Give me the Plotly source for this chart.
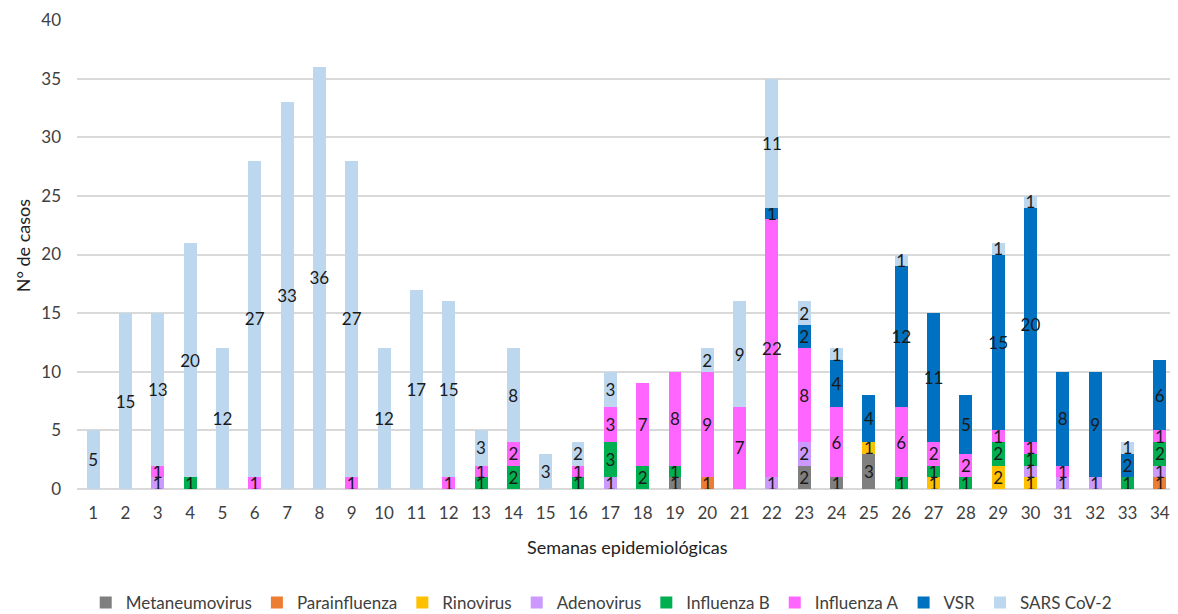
import plotly.graph_objects as go

weeks = [str(i) for i in range(1, 35)]

metaneumovirus = [0,0,0,0,0,0,0,0,0,0,0,0,0,0,0,0,0,0,1,0,0,0,2,1,3,0,0,0,0,0,0,0,0,0]
parainfluenza  = [0,0,0,0,0,0,0,0,0,0,0,0,0,0,0,0,0,0,0,1,0,0,0,0,0,0,0,0,0,0,0,0,0,1]
rinovirus      = [0,0,0,0,0,0,0,0,0,0,0,0,0,0,0,0,0,0,0,0,0,0,0,0,1,0,1,0,2,1,0,0,0,0]
adenovirus     = [0,0,1,0,0,0,0,0,0,0,0,0,0,0,0,0,1,0,0,0,0,1,2,0,0,0,0,0,0,1,1,1,0,1]
influenza_b    = [0,0,0,1,0,0,0,0,0,0,0,0,1,2,0,1,3,2,1,0,0,0,0,0,0,1,1,1,2,1,0,0,1,2]
influenza_a    = [0,0,1,0,0,1,0,0,1,0,0,1,1,2,0,1,3,7,8,9,7,22,8,6,0,6,2,2,1,1,1,0,0,1]
vsr            = [0,0,0,0,0,0,0,0,0,0,0,0,0,0,0,0,0,0,0,0,0,1,2,4,4,12,11,5,15,20,8,9,2,6]
sars_cov2      = [5,15,13,20,12,27,33,36,27,12,17,15,3,8,3,2,3,0,0,2,9,11,2,1,0,1,0,0,1,1,0,0,1,0]

series_names = ["Metaneumovirus", "Parainfluenza", "Rinovirus", "Adenovirus",
                "Influenza B", "Influenza A", "VSR", "SARS CoV-2"]
series_values = [metaneumovirus, parainfluenza, rinovirus, adenovirus,
                 influenza_b, influenza_a, vsr, sars_cov2]
series_colors = ["#7F7F7F", "#ED7D31", "#FFC000", "#CC99FF",
                 "#00B050", "#FF66FF", "#0070C0", "#BDD7EE"]

y_title = "N° de casos"
x_title = "Semanas epidemiológicas"

FONT = "Lato"

fig = go.Figure()
for name, vals, col in zip(series_names, series_values, series_colors):
    fig.add_trace(go.Bar(
        x=weeks,
        y=[v if v else None for v in vals],
        name=name,
        marker=dict(color=col, line=dict(width=0)),
        text=[str(v) if v else "" for v in vals],
        textposition="inside",
        insidetextanchor="middle",
        textangle=0,
        constraintext="none",
        textfont=dict(family=FONT, size=17, color="#1a1a1a"),
        hoverinfo="x+y+name",
    ))

# page body has an 8px margin, so the figure is sized to fit inside it
fig.update_layout(
    barmode="stack",
    bargap=0.6,
    width=1170,
    height=606,
    autosize=False,
    paper_bgcolor="white",
    plot_bgcolor="white",
    margin=dict(l=69, r=2, t=12, b=125, autoexpand=False),
    font=dict(family=FONT, size=17, color="#404040"),
    showlegend=True,
    legend=dict(
        orientation="h",
        x=0.477, xanchor="center",
        y=-0.243, yanchor="middle",
        traceorder="normal",
        font=dict(family=FONT, size=17, color="#404040"),
        itemwidth=30,
    ),
    uniformtext=dict(minsize=17, mode="show"),
    annotations=[
        dict(text=y_title, xref="paper", yref="paper", x=-0.049, y=0.52,
             xanchor="center", yanchor="middle", textangle=-90, showarrow=False,
             font=dict(family=FONT, size=18, color="#222222")),
        dict(text=x_title, xref="paper", yref="paper", x=0.501, y=-0.124,
             xanchor="center", yanchor="middle", showarrow=False,
             font=dict(family=FONT, size=18, color="#222222")),
    ],
)

fig.update_xaxes(
    type="category",
    tickfont=dict(size=17, color="#404040"),
    showgrid=False,
    showline=False,
    ticks="",
    ticklabelstandoff=12,
    automargin=False,
)
fig.update_yaxes(
    range=[0, 40],
    dtick=5,
    tickfont=dict(size=17, color="#404040"),
    showgrid=True,
    gridcolor="#D9D9D9",
    gridwidth=1.5,
    zeroline=True,
    zerolinecolor="#D9D9D9",
    zerolinewidth=1.5,
    ticks="",
    ticklabelstandoff=15,
    automargin=False,
)

fig.write_html("out.html")
